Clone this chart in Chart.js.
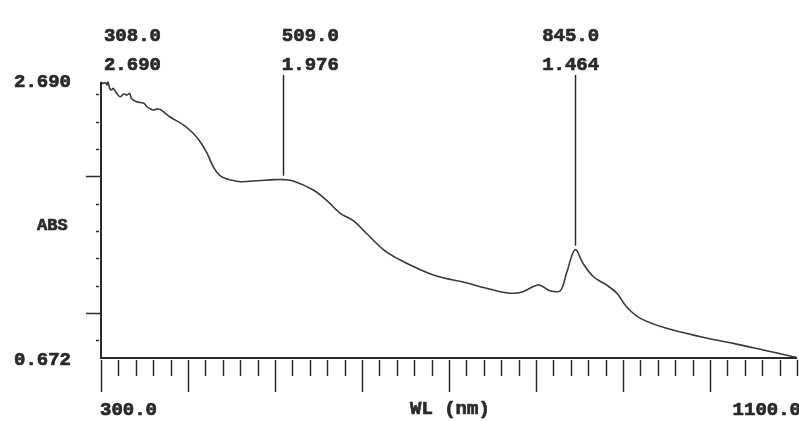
<!DOCTYPE html>
<html>
<head>
<meta charset="utf-8">
<script src="https://cdn.jsdelivr.net/npm/chart.js@4"></script>
<style>
html,body{margin:0;padding:0;background:#fff;}
#wrap{width:799px;height:421px;position:relative;}
</style>
</head>
<body>
<div id="wrap"><canvas id="c"></canvas></div>
<script>
// ---- data ----
const wavelengths = [300,302,305,307,308,310,312,314,318,322,326,330,333,335,341,349,353,356,360,364,368,379,395,406,414,422,429,436,441,448,460,483,500,509,521,544,559,575,590,605,625,644,682,721,736,759,774,785,803,816,828,835,845,854,866,881,893,904,920,950,989,1027,1065,1092,1100];
const absorbance  = [2.690,2.680,2.686,2.668,2.690,2.643,2.631,2.643,2.607,2.582,2.602,2.595,2.607,2.570,2.545,2.534,2.509,2.497,2.485,2.492,2.490,2.436,2.375,2.315,2.253,2.168,2.070,2.010,1.990,1.976,1.961,1.970,1.976,1.976,1.966,1.900,1.827,1.730,1.676,1.584,1.462,1.388,1.279,1.220,1.193,1.157,1.145,1.157,1.206,1.164,1.164,1.291,1.464,1.364,1.266,1.206,1.145,1.047,0.962,0.889,0.828,0.779,0.725,0.687,0.674];
const peakWl  = [308.0, 509.0, 845.0];
const peakAbs = [2.690, 1.976, 1.464];
const xMin = 300.0, xMax = 1100.0;
const yMin = 0.672, yMax = 2.690;
const xMajorStep = 100, xMinorStep = 20;
const yMajorTicks = [1.0, 2.0];
const yMinorTicks = [0.8, 1.2, 1.4, 1.6, 1.8, 2.2, 2.4, 2.6];
const xLabelLeft = "300.0", xLabelRight = "1100.0", xTitle = "WL (nm)";
const yLabelTop = "2.690", yLabelBottom = "0.672", yTitle = "ABS";

const ink = '#2a2a2a';
const FONT = "bold 19px 'Liberation Mono', 'DejaVu Sans Mono', monospace";

function heavyText(ctx, s, x, y) {
  ctx.fillText(s, x, y);
  ctx.strokeText(s, x, y);
}

const decor = {
  id: 'decor',
  afterDraw(chart) {
    const ctx = chart.ctx, xs = chart.scales.x, ys = chart.scales.y;
    const L = xs.getPixelForValue(xMin), R = xs.getPixelForValue(xMax);
    const T = ys.getPixelForValue(yMax), B = ys.getPixelForValue(yMin);
    ctx.save();
    ctx.strokeStyle = ink; ctx.fillStyle = ink;
    // axes
    ctx.lineWidth = 2;
    ctx.beginPath();
    ctx.moveTo(L, T); ctx.lineTo(L, B); ctx.lineTo(R, B);
    ctx.stroke();
    // x ticks
    ctx.lineWidth = 1.5;
    for (let v = xMin; v <= xMax + 0.01; v += xMinorStep) {
      const px = Math.round(xs.getPixelForValue(v)) + 0.5;
      const major = Math.abs(v % xMajorStep) < 0.01 && v < xMax;
      ctx.beginPath();
      ctx.moveTo(px, B + 2);
      ctx.lineTo(px, B + (major ? 34 : 18));
      ctx.stroke();
    }
    // y ticks
    yMinorTicks.forEach(v => {
      const py = Math.round(ys.getPixelForValue(v)) + 0.5;
      ctx.beginPath(); ctx.moveTo(L - 5, py); ctx.lineTo(L - 2, py); ctx.stroke();
    });
    yMajorTicks.forEach(v => {
      const py = Math.round(ys.getPixelForValue(v)) + 0.5;
      ctx.beginPath(); ctx.moveTo(L - 15, py); ctx.lineTo(L, py); ctx.stroke();
    });
    // axis texts
    ctx.lineWidth = 0.7;
    ctx.font = FONT;
    ctx.textBaseline = 'middle';
    ctx.textAlign = 'left';
    heavyText(ctx, yLabelTop, 14, T);
    heavyText(ctx, yLabelBottom, 14, B + 2);
    heavyText(ctx, xLabelLeft, L - 1, B + 52);
    heavyText(ctx, xTitle, 410, B + 51);
    ctx.textAlign = 'right';
    heavyText(ctx, xLabelRight, 801, B + 52);
    ctx.textAlign = 'left';
    ctx.font = "bold 17px 'Liberation Mono', 'DejaVu Sans Mono', monospace";
    heavyText(ctx, yTitle, 37, 226);
    // peak markers
    ctx.font = FONT;
    const offs = [-4, -1, -33];
    peakWl.forEach((w, i) => {
      const px = xs.getPixelForValue(w);
      const py = ys.getPixelForValue(peakAbs[i]);
      ctx.textAlign = 'left';
      ctx.lineWidth = 0.7;
      heavyText(ctx, w.toFixed(1), px + offs[i], 36);
      heavyText(ctx, peakAbs[i].toFixed(3), px + offs[i], 65);
      if (py - 4 > 90) {
        ctx.lineWidth = 1.5;
        ctx.beginPath();
        ctx.moveTo(Math.round(px) + 0.5, 75);
        ctx.lineTo(Math.round(px) + 0.5, py - 4);
        ctx.stroke();
      }
    });
    ctx.restore();
  }
};

new Chart(document.getElementById('c'), {
  type: 'line',
  data: {
    datasets: [{
      data: wavelengths.map((w, i) => ({x: w, y: absorbance[i]})),
      borderColor: '#3a3a3a',
      borderWidth: 1.6,
      pointRadius: 0,
      tension: 0.35,
      fill: false,
      clip: false
    }]
  },
  options: {
    responsive: true,
    maintainAspectRatio: false,
    animation: false,
    layout: { padding: { left: 101, right: 2, top: 82, bottom: 63 } },
    plugins: { legend: { display: false }, tooltip: { enabled: false } },
    scales: {
      x: { type: 'linear', min: xMin, max: xMax, display: false },
      y: { type: 'linear', min: yMin, max: yMax, display: false }
    }
  },
  plugins: [decor]
});
</script>
</body>
</html>
